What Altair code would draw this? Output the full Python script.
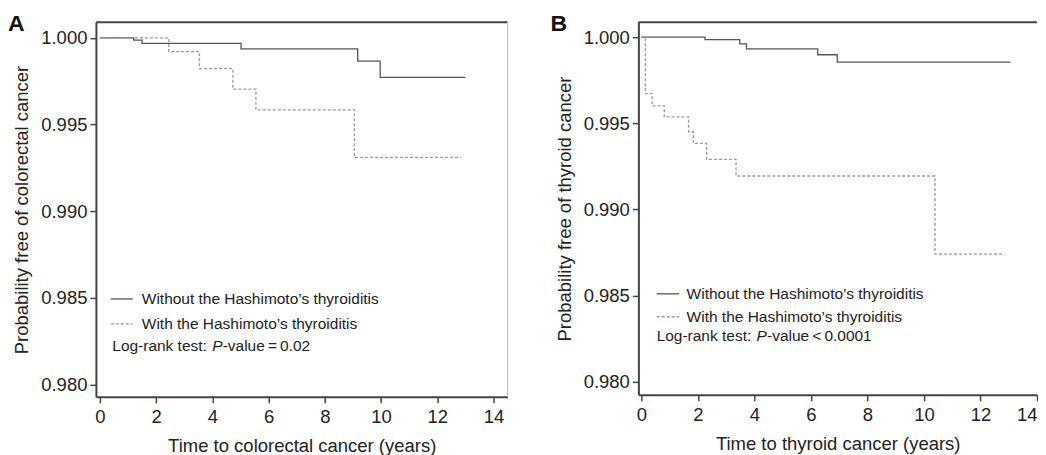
import altair as alt
import pandas as pd

FONT = "Liberation Sans"

# ---- Panel A data (colorectal cancer) ----
a_without_t = [0.0, 1.20, 1.50, 5.02, 9.17, 9.97, 13.0]
a_without_s = [1.0, 0.99987, 0.99968, 0.99937, 0.99866, 0.99772, 0.99772]
a_with_t = [0.0, 2.45, 3.54, 4.73, 5.55, 9.05, 12.84]
a_with_s = [1.0, 0.99921, 0.99823, 0.99704, 0.99585, 0.99310, 0.99310]

# ---- Panel B data (thyroid cancer) ----
b_without_t = [0.0, 2.25, 3.48, 3.72, 6.24, 6.93, 13.06]
b_without_s = [1.0, 0.99986, 0.99961, 0.99932, 0.99898, 0.99855, 0.99855]
b_with_t = [0.0, 0.14, 0.38, 0.81, 1.67, 1.84, 2.31, 3.35, 10.39, 12.85]
b_with_s = [1.0, 0.99672, 0.99601, 0.99537, 0.99451, 0.99383, 0.99290, 0.99194, 0.98741, 0.98741]

groups = ["Without the Hashimoto\u2019s thyroiditis", "With the Hashimoto\u2019s thyroiditis"]
y_ticks = [0.980, 0.985, 0.990, 0.995, 1.000]
x_ticks = [0, 2, 4, 6, 8, 10, 12, 14]

a_pvalue = "-value\u2009=\u20090.02"
b_pvalue = "-value\u2009<\u20090.0001"

SOLID = "#555555"
DASH = "#9a9a9a"
FRAME = "#444444"
TXT = "#222222"


def curve_df(t, s, g):
    return pd.DataFrame({"t": t, "s": s, "g": g})


def panel(letter, wt, ws, ht, hs, xdom, ydom, w, h, xtitle, ytitle,
          leg_x0, leg_x1, leg_tx, lr_x, rows, ptext, right_frame, last_right):
    xs = alt.Scale(domain=xdom, nice=False, zero=False)
    ys = alt.Scale(domain=ydom, nice=False, zero=False)
    xlab_align = alt.ExprRef("datum.value >= 14 ? 'right' : 'center'") if last_right else "center"
    xax = alt.Axis(values=x_ticks, title=xtitle, format="d", tickSize=6, labelPadding=5,
                   titlePadding=10, domainWidth=2, tickWidth=1.5, labelAlign=xlab_align,
                   grid=False)
    yax = alt.Axis(values=y_ticks, title=ytitle, format=".3f", tickSize=6, labelPadding=3,
                   titlePadding=9, domainWidth=2, tickWidth=1.5, grid=False)

    df = pd.concat([curve_df(wt, ws, groups[0]), curve_df(ht, hs, groups[1])])
    base = alt.Chart(df)
    without = base.transform_filter(alt.datum.g == groups[0]).mark_line(
        interpolate="step-after", color=SOLID, strokeWidth=1.3).encode(
        x=alt.X("t:Q", scale=xs, axis=xax), y=alt.Y("s:Q", scale=ys, axis=yax))
    withh = base.transform_filter(alt.datum.g == groups[1]).mark_line(
        interpolate="step-after", color=DASH, strokeWidth=1.3, strokeDash=[3, 2]).encode(
        x=alt.X("t:Q", scale=xs), y=alt.Y("s:Q", scale=ys))

    leg = pd.DataFrame({"x0": [leg_x0, leg_x0], "x1": [leg_x1, leg_x1],
                        "tx": [leg_tx, leg_tx], "y": rows[:2], "label": groups})
    leg_solid = alt.Chart(leg.iloc[[0]]).mark_rule(color=SOLID, strokeWidth=1.3).encode(
        x=alt.X("x0:Q", scale=xs), x2="x1:Q", y=alt.Y("y:Q", scale=ys))
    leg_dash = alt.Chart(leg.iloc[[1]]).mark_rule(color=DASH, strokeWidth=1.3, strokeDash=[3, 2]).encode(
        x=alt.X("x0:Q", scale=xs), x2="x1:Q", y=alt.Y("y:Q", scale=ys))
    leg_text = alt.Chart(leg).mark_text(align="left", baseline="middle", font=FONT,
                                        fontSize=15.5, color=TXT).encode(
        x=alt.X("tx:Q", scale=xs), y=alt.Y("y:Q", scale=ys), text="label:N")

    lr = pd.DataFrame({"x": [lr_x], "y": [rows[2]]})
    lr1 = alt.Chart(lr).mark_text(align="left", baseline="middle", font=FONT, fontSize=15.5,
                                  color=TXT, text="Log-rank test: ").encode(
        x=alt.X("x:Q", scale=xs), y=alt.Y("y:Q", scale=ys))
    lr2 = alt.Chart(lr).mark_text(align="left", baseline="middle", font=FONT, fontSize=15.5,
                                  fontStyle="italic", color=TXT, text="P", dx=100).encode(
        x=alt.X("x:Q", scale=xs), y=alt.Y("y:Q", scale=ys))
    lr3 = alt.Chart(lr).mark_text(align="left", baseline="middle", font=FONT, fontSize=15.5,
                                  color=TXT, text=ptext, dx=110.5).encode(
        x=alt.X("x:Q", scale=xs), y=alt.Y("y:Q", scale=ys))

    top = alt.Chart(lr).mark_rule(color=FRAME, strokeWidth=2).encode(
        x=alt.value(0), x2=alt.value(w), y=alt.value(0))
    layers = [top, without, withh, leg_solid, leg_dash, leg_text, lr1, lr2, lr3]
    if right_frame:
        layers.append(alt.Chart(lr).mark_rule(color="#bbbbbb", strokeWidth=1).encode(
            x=alt.value(w), y=alt.value(0), y2=alt.value(h)))
    lab = alt.Chart(lr).mark_text(align="left", baseline="alphabetic", font=FONT, fontSize=23,
                                  fontWeight="bold", color="#111111", text=letter).encode(
        x=alt.value(-88), y=alt.value(9))
    layers.append(lab)
    return alt.layer(*layers).properties(width=w, height=h)


pA = panel("A", a_without_t, a_without_s, a_with_t, a_with_s,
           [-0.142, 14.5], [0.97928, 1.000905], 412, 375,
           "Time to colorectal cancer (years)", "Probability free of colorectal cancer",
           0.39, 1.17, 1.49, 0.44, [0.98493, 0.98349, 0.98222], a_pvalue, True, False)

pB = panel("B", b_without_t, b_without_s, b_with_t, b_with_s,
           [-0.106, 14.0], [0.979237, 1.000868], 399, 373,
           "Time to thyroid cancer (years)", "Probability free of thyroid cancer",
           0.54, 1.34, 1.60, 0.54, [0.98510, 0.98377, 0.98265], b_pvalue, False, True)

chart = alt.hconcat(pA, pB, spacing=42).properties(
    padding={"left": 0, "top": 5, "right": 0, "bottom": 0},
    background="white"
).configure_view(stroke=None).configure_axis(
    labelFont=FONT, titleFont=FONT, labelFontSize=18.5, titleFontSize=18.5,
    labelColor=TXT, titleColor=TXT, titleFontWeight="normal", grid=False,
    domainColor=FRAME, tickColor=FRAME
)

chart.save("out.html", embed_options={"renderer": "svg", "actions": False})
